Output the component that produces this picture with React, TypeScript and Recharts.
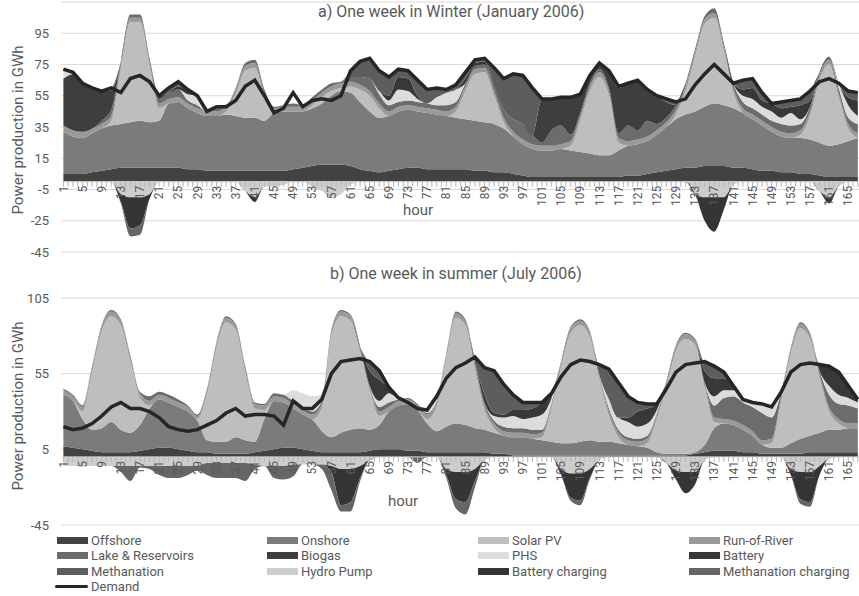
import React from 'react';
import { ComposedChart, Area, Line, XAxis, YAxis, CartesianGrid, ReferenceLine } from 'recharts';

// hours sampled every 2 h across the week
const hours = [
  1, 3, 5, 7, 9, 11, 13, 15, 17, 19,
  21, 23, 25, 27, 29, 31, 33, 35, 37, 39,
  41, 43, 45, 47, 49, 51, 53, 55, 57, 59,
  61, 63, 65, 67, 69, 71, 73, 75, 77, 79,
  81, 83, 85, 87, 89, 91, 93, 95, 97, 99,
  101, 103, 105, 107, 109, 111, 113, 115, 117, 119,
  121, 123, 125, 127, 129, 131, 133, 135, 137, 139,
  141, 143, 145, 147, 149, 151, 153, 155, 157, 159,
  161, 163, 165, 167,
];

const hourLabels = [
  1, 5, 9, 13, 17, 21, 25, 29, 33, 37, 41, 45, 49, 53, 57, 61, 65, 69, 73, 77, 81,
  85, 89, 93, 97, 101, 105, 109, 113, 117, 121, 125, 129, 133, 137, 141, 145, 149,
  153, 157, 161, 165,
];

const winterTicks = [-45, -25, -5, 15, 35, 55, 75, 95];
const summerTicks = [-45, 5, 55, 105];

// ---- a) winter week (January 2006) ----
const wOffshore = [
  5, 5, 5, 6, 7, 8, 9, 9, 9, 9,
  9, 9, 9, 8, 8, 7, 7, 7, 7, 7,
  7, 7, 7, 7, 8, 9, 10, 11, 11, 11,
  10, 8, 7, 6, 7, 8, 9, 9, 8, 8,
  8, 8, 8, 7, 7, 6, 6, 5, 4, 3,
  3, 3, 3, 3, 3, 3, 3, 3, 3, 4,
  4, 5, 6, 7, 8, 9, 9, 10, 10, 10,
  9, 9, 8, 7, 7, 6, 6, 5, 5, 4,
  3, 3, 3, 3,
];
const wOnshore = [
  27, 24, 23, 25, 27, 28, 28, 29, 30, 29,
  30, 41, 42, 39, 36, 35, 35, 36, 35, 34,
  34, 32, 37, 38, 37, 36, 37, 39, 44, 47,
  47, 43, 38, 35, 35, 37, 37, 36, 36, 35,
  34, 33, 32, 32, 31, 31, 28, 24, 20, 18,
  17, 17, 18, 17, 16, 15, 14, 14, 17, 19,
  20, 21, 24, 28, 32, 34, 36, 38, 40, 39,
  38, 35, 32, 29, 25, 23, 22, 23, 22, 21,
  20, 21, 23, 25,
];
const wSolar = [
  0, 0, 0, 0, 0, 3, 35, 64, 63, 36,
  8, 0, 0, 0, 0, 0, 0, 2, 14, 30,
  32, 15, 0, 0, 0, 0, 2, 4, 3, 2,
  4, 8, 10, 6, 0, 0, 0, 0, 0, 0,
  0, 4, 18, 30, 32, 18, 4, 0, 0, 0,
  0, 0, 0, 3, 20, 40, 50, 38, 5, 0,
  0, 0, 0, 0, 3, 15, 35, 53, 55, 35,
  10, 0, 0, 0, 0, 0, 0, 2, 15, 40,
  52, 30, 8, 0,
];
const wRiver = [
  4, 4, 4, 3, 3, 3, 3, 3, 3, 3,
  3, 3, 3, 3, 3, 3, 3, 3, 3, 3,
  3, 3, 3, 3, 3, 3, 3, 3, 3, 3,
  3, 3, 3, 3, 3, 3, 3, 3, 3, 3,
  3, 3, 3, 3, 3, 3, 3, 3, 3, 3,
  3, 3, 3, 3, 3, 3, 3, 3, 3, 3,
  3, 3, 3, 3, 3, 3, 3, 3, 3, 3,
  3, 3, 3, 3, 3, 3, 3, 3, 3, 3,
  3, 3, 3, 3,
];
const wLake = [
  0, 0, 0, 0, 2, 4, 2, 2, 2, 2,
  3, 4, 5, 2, 2, 0, 3, 1, 1, 2,
  2, 2, 1, 1, 2, 1, 2, 2, 2, 1,
  3, 5, 8, 6, 4, 3, 3, 3, 3, 3,
  4, 3, 2, 2, 2, 3, 5, 8, 10, 6,
  2, 10, 12, 4, 2, 2, 2, 2, 3, 10,
  6, 10, 4, 3, 3, 2, 2, 2, 3, 2,
  3, 4, 4, 4, 4, 5, 5, 4, 3, 2,
  2, 3, 4, 6,
];
const wBiogas = [
  30, 36, 32, 26, 19, 12, 0, 0, 0, 0,
  2, 0, 0, 0, 0, 0, 0, 0, 0, 0,
  0, 0, 0, 0, 0, 0, 0, 0, 0, 0,
  0, 0, 0, 0, 0, 0, 0, 0, 0, 0,
  0, 0, 0, 0, 0, 0, 0, 0, 0, 0,
  28, 20, 18, 24, 12, 5, 4, 11, 29, 27,
  32, 20, 18, 10, 0, 0, 0, 0, 0, 0,
  0, 0, 0, 0, 0, 0, 0, 0, 0, 0,
  0, 0, 0, 0,
];
const wPhs = [
  7, 2, 0, 0, 0, 0, 0, 0, 0, 0,
  0, 0, 0, 4, 6, 0, 0, 0, 0, 0,
  0, 0, 0, 0, 0, 0, 0, 0, 0, 0,
  0, 0, 0, 2, 3, 8, 6, 2, 0, 5,
  8, 8, 0, 0, 0, 0, 0, 0, 0, 0,
  0, 0, 0, 0, 0, 0, 0, 0, 0, 0,
  0, 0, 0, 0, 0, 0, 0, 0, 0, 0,
  0, 4, 6, 5, 6, 4, 8, 3, 0, 0,
  0, 3, 8, 5,
];
const wBattery = [
  0, 0, 0, 0, 0, 0, 0, 0, 0, 0,
  0, 0, 2, 3, 0, 0, 0, 0, 0, 0,
  0, 0, 0, 0, 0, 0, 0, 0, 0, 0,
  0, 0, 0, 0, 3, 8, 8, 2, 0, 0,
  0, 0, 3, 2, 2, 0, 0, 0, 0, 0,
  0, 0, 0, 0, 0, 0, 0, 0, 0, 0,
  0, 0, 0, 0, 0, 0, 0, 0, 0, 0,
  0, 4, 7, 4, 5, 6, 4, 9, 4, 0,
  0, 0, 5, 10,
];
const wMethanation = [
  0, 0, 0, 0, 0, 2, 0, 0, 0, 0,
  0, 3, 3, 0, 0, 0, 0, 0, 0, 0,
  0, 0, 0, 0, 0, 0, 0, 0, 0, 0,
  4, 10, 13, 13, 12, 5, 5, 10, 9, 6,
  2, 3, 4, 2, 2, 12, 20, 29, 31, 30,
  0, 0, 0, 0, 0, 0, 0, 0, 0, 0,
  0, 0, 0, 2, 2, 0, 0, 0, 0, 0,
  0, 6, 6, 5, 0, 4, 4, 4, 6, 0,
  0, 0, 4, 5,
];
const wHydroPump = [
  0, 0, 0, 0, 0, 0, -8, -10, -10, -8,
  0, 0, 0, 0, 0, 0, 0, 0, 0, -6,
  -10, -3, -3, -2, 0, 0, -3, -6, -10, -8,
  -2, 0, 0, 0, 0, 0, 0, 0, 0, 0,
  0, 0, 0, 0, 0, 0, 0, 0, 0, 0,
  0, 0, 0, 0, 0, 0, 0, 0, 0, 0,
  0, 0, 0, 0, 0, 0, -8, -10, -10, -10,
  -2, 0, 0, 0, 0, 0, 0, 0, 0, -6,
  -10, -3, 0, 0,
];
const wBatteryCharging = [
  0, 0, 0, 0, 0, 0, -5, -20, -18, -3,
  0, 0, 0, 0, 0, 0, 0, 0, 0, 0,
  -3, 0, 0, 0, 0, 0, 0, 0, 0, 0,
  0, 0, 0, 0, 0, 0, 0, 0, 0, 0,
  0, 0, 0, 0, 0, 0, 0, 0, 0, 0,
  0, 0, 0, 0, 0, 0, 0, 0, 0, 0,
  0, 0, 0, 0, 0, 0, 0, -15, -22, -8,
  0, 0, 0, 0, 0, 0, 0, 0, 0, 0,
  -4, 0, 0, 0,
];
const wMethCharging = [
  0, 0, 0, 0, 0, 0, -1, -5, -6, 0,
  0, 0, 0, 0, 0, 0, 0, 0, 0, 0,
  0, 0, 0, 0, 0, 0, 0, 0, 0, 0,
  0, 0, 0, 0, 0, 0, 0, 0, 0, 0,
  0, 0, 0, 0, 0, 0, 0, 0, 0, 0,
  0, 0, 0, 0, 0, 0, 0, 0, 0, 0,
  0, 0, 0, 0, 0, 0, 0, 0, 0, 0,
  0, 0, 0, 0, 0, 0, 0, 0, 0, 0,
  0, 0, 0, 0,
];
const wDemand = [
  72, 70, 63, 60, 58, 60, 57, 66, 68, 64,
  55, 60, 64, 59, 55, 45, 48, 48, 52, 61,
  65, 55, 44, 47, 57, 48, 52, 53, 52, 55,
  71, 77, 79, 71, 67, 72, 71, 65, 59, 60,
  59, 62, 70, 78, 79, 73, 66, 69, 68, 60,
  53, 53, 54, 54, 56, 68, 76, 71, 61, 63,
  65, 59, 55, 53, 51, 53, 62, 69, 75, 69,
  63, 65, 66, 57, 50, 51, 52, 53, 58, 64,
  66, 63, 58, 57,
];

// ---- b) summer week (July 2006) ----
const sOffshore = [
  7, 6, 5, 4, 3, 3, 3, 3, 4, 5,
  6, 6, 5, 4, 3, 3, 2, 2, 2, 2,
  3, 4, 5, 6, 6, 5, 4, 3, 3, 3,
  3, 3, 4, 5, 5, 5, 4, 4, 3, 3,
  3, 3, 3, 3, 3, 2, 2, 1, 1, 1,
  1, 1, 1, 1, 1, 1, 1, 1, 1, 1,
  1, 1, 1, 1, 1, 1, 2, 3, 4, 4,
  4, 3, 3, 2, 2, 2, 2, 2, 3, 3,
  3, 3, 3, 3,
];
const sOnshore = [
  34, 31, 20, 14, 16, 20, 15, 13, 17, 27,
  32, 30, 28, 26, 21, 8, 8, 8, 11, 9,
  7, 21, 32, 30, 26, 23, 21, 14, 10, 13,
  15, 16, 14, 16, 25, 29, 31, 27, 19, 14,
  17, 19, 18, 16, 15, 14, 12, 12, 12, 11,
  10, 9, 8, 8, 9, 10, 9, 9, 8, 7,
  6, 5, 2, 1, 1, 1, 1, 5, 15, 18,
  17, 15, 11, 6, 4, 4, 7, 10, 11, 13,
  15, 15, 16, 16,
];
const sSolar = [
  0, 0, 5, 38, 64, 70, 69, 47, 18, 2,
  0, 0, 0, 0, 1, 30, 62, 79, 71, 45,
  22, 6, 0, 0, 0, 0, 0, 15, 67, 77,
  72, 50, 26, 6, 0, 0, 0, 0, 3, 16,
  44, 70, 66, 39, 13, 3, 0, 0, 0, 0,
  2, 22, 50, 73, 77, 68, 41, 17, 4, 0,
  0, 3, 22, 44, 68, 76, 71, 38, 4, 0,
  0, 0, 0, 0, 3, 31, 59, 73, 64, 36,
  12, 4, 0, 0,
];
const sRiver = [
  3, 3, 3, 3, 3, 3, 3, 3, 3, 3,
  3, 3, 3, 3, 2, 3, 3, 3, 3, 3,
  3, 3, 3, 3, 3, 3, 3, 3, 3, 3,
  3, 3, 3, 3, 3, 3, 3, 3, 3, 3,
  3, 3, 3, 3, 3, 3, 3, 3, 3, 3,
  3, 3, 3, 3, 3, 3, 3, 3, 3, 3,
  3, 3, 3, 3, 3, 3, 3, 3, 3, 3,
  3, 3, 3, 3, 3, 3, 3, 3, 3, 3,
  3, 3, 3, 3,
];
const sLake = [
  1, 1, 1, 1, 1, 1, 1, 1, 1, 3,
  2, 2, 2, 1, 1, 1, 1, 1, 1, 1,
  1, 1, 2, 2, 2, 2, 2, 2, 1, 1,
  1, 1, 0, 3, 3, 1, 1, 1, 1, 1,
  1, 1, 1, 1, 2, 2, 3, 3, 3, 3,
  2, 1, 1, 1, 1, 1, 0, 2, 2, 2,
  2, 2, 1, 1, 1, 1, 1, 0, 8, 14,
  16, 15, 16, 18, 14, 3, 1, 1, 1, 2,
  8, 10, 12, 10,
];
const sPhs = [
  0, 0, 0, 0, 0, 0, 0, 0, 0, 0,
  0, 0, 0, 0, 0, 0, 0, 0, 0, 0,
  0, 0, 0, 0, 7, 9, 10, 4, 0, 0,
  0, 0, 0, 4, 6, 1, 0, 0, 2, 3,
  0, 0, 0, 0, 0, 3, 6, 8, 6, 8,
  10, 3, 0, 0, 0, 0, 0, 6, 8, 10,
  8, 8, 2, 0, 0, 0, 0, 0, 6, 5,
  4, 2, 3, 6, 7, 0, 0, 0, 0, 0,
  6, 6, 5, 4,
];
const sBattery = [
  0, 0, 0, 0, 0, 0, 0, 0, 0, 0,
  0, 0, 0, 0, 0, 0, 0, 0, 0, 0,
  0, 0, 0, 0, 0, 0, 0, 0, 0, 0,
  0, 0, 10, 14, 4, 0, 0, 0, 0, 0,
  0, 0, 0, 0, 5, 2, 2, 4, 6, 6,
  8, 3, 0, 0, 0, 0, 0, 0, 0, 3,
  10, 10, 4, 0, 0, 0, 0, 8, 12, 8,
  3, 0, 0, 0, 0, 0, 0, 0, 0, 4,
  13, 15, 8, 2,
];
const sMethanation = [
  0, 0, 0, 0, 0, 0, 0, 0, 0, 0,
  0, 0, 0, 0, 0, 0, 0, 0, 0, 0,
  0, 0, 0, 0, 0, 0, 0, 0, 0, 0,
  0, 0, 5, 6, 0, 0, 0, 0, 0, 0,
  0, 0, 0, 4, 18, 28, 20, 10, 5, 4,
  0, 0, 0, 0, 0, 0, 6, 20, 23, 14,
  6, 3, 0, 0, 0, 0, 0, 5, 8, 4,
  0, 0, 0, 0, 0, 0, 0, 0, 0, 0,
  0, 0, 0, 0,
];
const sHydroPump = [
  -6, -6, -6, -6, -6, -6, -6, -6, -6, -6,
  -6, -6, -6, -6, -6, -4, -4, -4, -4, -4,
  -5, -6, -6, -6, -5, -5, -5, -5, -6, -8,
  -8, -6, -2, 0, 0, 0, 0, 0, 0, 0,
  -8, -10, -10, -8, -2, 0, 0, 0, 0, 0,
  0, 0, -8, -11, -11, -8, -2, 0, 0, 0,
  0, 0, 0, -4, -9, -10, -10, -2, 0, 0,
  0, 0, 0, 0, 0, 0, -8, -10, -10, -6,
  -1, 0, 0, 0,
];
const sBatteryCharging = [
  0, 0, 0, 0, 0, 0, 0, 0, 0, 0,
  0, 0, 0, 0, 0, 0, 0, 0, 0, 0,
  0, 0, 0, 0, 0, 0, 0, 0, -4, -24,
  -22, -8, 0, 0, 0, 0, 0, 0, 0, 0,
  -4, -18, -20, -8, 0, 0, 0, 0, 0, 0,
  0, 0, -4, -16, -18, -6, 0, 0, 0, 0,
  0, 0, 0, 0, -6, -14, -8, 0, 0, 0,
  0, 0, 0, 0, 0, 0, -4, -18, -20, -6,
  0, 0, 0, 0,
];
const sMethCharging = [
  0, 0, 0, 0, 0, 0, -4, -10, -1, -2,
  -6, -8, -8, -6, -3, -8, -10, -10, -10, -12,
  -3, 0, -8, -9, -8, 0, 0, -3, -12, -4,
  -6, -2, 0, 0, 0, 0, 0, -4, 0, 0,
  -2, -6, -8, -4, 0, 0, 0, 0, 0, 0,
  0, 0, 0, -2, -3, -1, 0, 0, 0, 0,
  0, 0, 0, 0, 0, 0, 0, 0, 0, 0,
  0, 0, 0, 0, 0, 0, 0, -3, -3, 0,
  0, 0, 0, 0,
];
const sDemand = [
  20, 18, 19, 22, 27, 33, 36, 32, 32, 30,
  26, 20, 18, 17, 18, 21, 24, 29, 32, 27,
  28, 28, 27, 21, 37, 32, 32, 38, 55, 63,
  64, 65, 63, 57, 46, 39, 36, 32, 31, 40,
  52, 59, 62, 66, 59, 57, 48, 41, 36, 36,
  36, 42, 53, 61, 64, 63, 61, 58, 49, 40,
  36, 35, 35, 45, 56, 61, 62, 63, 60, 56,
  47, 38, 36, 35, 33, 43, 56, 61, 62, 61,
  60, 56, 47, 38,
];

const SERIES = [
  { key: 'offshore', name: 'Offshore', color: '#424242', stack: 'pos' },
  { key: 'onshore', name: 'Onshore', color: '#7b7b7b', stack: 'pos' },
  { key: 'solar', name: 'Solar PV', color: '#bebebe', stack: 'pos' },
  { key: 'river', name: 'Run-of-River', color: '#9a9a9a', stack: 'pos' },
  { key: 'lake', name: 'Lake & Reservoirs', color: '#6c6c6c', stack: 'pos' },
  { key: 'biogas', name: 'Biogas', color: '#3e3e3e', stack: 'pos' },
  { key: 'phs', name: 'PHS', color: '#dcdcdc', stack: 'pos' },
  { key: 'battery', name: 'Battery', color: '#383838', stack: 'pos' },
  { key: 'methanation', name: 'Methanation', color: '#5d5d5d', stack: 'pos' },
  { key: 'hydroPump', name: 'Hydro Pump', color: '#cdcdcd', stack: 'neg' },
  { key: 'batteryCharging', name: 'Battery charging', color: '#353535', stack: 'neg' },
  { key: 'methCharging', name: 'Methanation charging', color: '#666666', stack: 'neg' },
];

const LEGEND_ROWS = [
  ['offshore', 'onshore', 'solar', 'river'],
  ['lake', 'biogas', 'phs', 'battery'],
  ['methanation', 'hydroPump', 'batteryCharging', 'methCharging'],
];

function buildRows(cols: Record<string, number[]>) {
  return hours.map((h, i) => {
    const row: Record<string, number> = { hour: h };
    Object.keys(cols).forEach((k) => {
      row[k] = cols[k][i];
    });
    return row;
  });
}

const winterRows = buildRows({
  offshore: wOffshore, onshore: wOnshore, solar: wSolar, river: wRiver, lake: wLake,
  biogas: wBiogas, phs: wPhs, battery: wBattery, methanation: wMethanation,
  hydroPump: wHydroPump, batteryCharging: wBatteryCharging, methCharging: wMethCharging,
  demand: wDemand,
});

const summerRows = buildRows({
  offshore: sOffshore, onshore: sOnshore, solar: sSolar, river: sRiver, lake: sLake,
  phs: sPhs, battery: sBattery, methanation: sMethanation,
  hydroPump: sHydroPump, batteryCharging: sBatteryCharging, methCharging: sMethCharging,
  demand: sDemand,
});

// every hour gets a small tick mark; only every 4th hour is labelled
const allHours = Array.from({ length: 168 }, (_, i) => i + 1);
const labelSet = new Set(hourLabels);

const TEXT = '#595959';
const GRID = '#d9d9d9';

const HourTick = (props: any) => {
  const { x, y, payload, shift } = props;
  const y0 = y - shift;
  const v = payload.value;
  return (
    <g>
      <line x1={x} x2={x} y1={y0} y2={y0 + 5} stroke="#b5b5b5" strokeWidth={1} />
      {labelSet.has(v) && (
        <text
          transform={`translate(${x},${y0 + 4}) rotate(-90)`}
          textAnchor="end"
          dy="0.35em"
          fontSize={12}
          fill={TEXT}
        >
          {v}
        </text>
      )}
    </g>
  );
};

interface WeekProps {
  rows: Record<string, number>[];
  keys: string[];
  yMin: number;
  yMax: number;
  yTicks: number[];
  top: number;
  marginTop: number;
  plotHeight: number;
}

const WeekChart = ({ rows, keys, yMin, yMax, yTicks, top, marginTop, plotHeight }: WeekProps) => {
  const axisH = 1;
  const marginBottom = 9;
  const height = marginTop + plotHeight + axisH + marginBottom;
  const shift = (plotHeight * (0 - yMin)) / (yMax - yMin);
  return (
    <div style={{ position: 'absolute', left: 0, top }}>
      <ComposedChart
        width={870}
        height={height}
        data={rows}
        margin={{ top: marginTop, right: 5, bottom: marginBottom, left: 0 }}
      >
        <CartesianGrid vertical={false} stroke={GRID} />
        <XAxis
          type="number"
          dataKey="hour"
          domain={[0.5, 168.5]}
          ticks={allHours}
          interval={0}
          height={axisH}
          tickSize={0}
          tickMargin={0}
          axisLine={false}
          tickLine={false}
          tick={(p: any) => <HourTick {...p} shift={shift} />}
        />
        <YAxis
          domain={[yMin, yMax]}
          ticks={yTicks}
          width={61}
          axisLine={false}
          tickLine={false}
          tickSize={0}
          tickMargin={12}
          allowDataOverflow
          tick={{ fill: TEXT, fontSize: 13 }}
        />
        <ReferenceLine y={0} stroke={GRID} />
        {SERIES.filter((s) => keys.includes(s.key)).map((s) => (
          <Area
            key={s.key}
            type="monotone"
            dataKey={s.key}
            name={s.name}
            stackId={s.stack}
            stroke="none"
            fill={s.color}
            fillOpacity={1}
            dot={false}
            activeDot={false}
            isAnimationActive={false}
          />
        ))}
        <Line
          type="linear"
          dataKey="demand"
          name="Demand"
          stroke="#262626"
          strokeWidth={3.5}
          dot={false}
          activeDot={false}
          isAnimationActive={false}
        />
      </ComposedChart>
    </div>
  );
};

const absText = (left: number, top: number, size: number, text: string, extra: React.CSSProperties = {}) => (
  <div
    style={{
      position: 'absolute',
      left,
      top,
      fontSize: size,
      color: TEXT,
      whiteSpace: 'nowrap',
      lineHeight: 1,
      ...extra,
    }}
  >
    {text}
  </div>
);

const YLabel = ({ cy }: { cy: number }) => (
  <div
    style={{
      position: 'absolute',
      left: 18 - 110,
      top: cy - 10,
      width: 220,
      height: 20,
      lineHeight: '20px',
      textAlign: 'center',
      fontSize: 15,
      color: TEXT,
      transform: 'rotate(-90deg)',
    }}
  >
    Power production in GWh
  </div>
);

const LegendBox = () => {
  const colX = [57, 267, 478, 689];
  const rowY = [540, 555.5, 571];
  const byKey: Record<string, (typeof SERIES)[number]> = {};
  SERIES.forEach((s) => {
    byKey[s.key] = s;
  });
  return (
    <>
      {LEGEND_ROWS.map((row, r) =>
        row.map((k, c) => (
          <div
            key={k}
            style={{ position: 'absolute', left: colX[c], top: rowY[r] - 8, height: 16, display: 'flex', alignItems: 'center' }}
          >
            <div style={{ width: 31, height: 7, background: byKey[k].color, marginRight: 3 }} />
            <span style={{ fontSize: 13, color: TEXT }}>{byKey[k].name}</span>
          </div>
        )),
      )}
      <div style={{ position: 'absolute', left: 55, top: 586.5 - 8, height: 16, display: 'flex', alignItems: 'center' }}>
        <div style={{ width: 33, height: 3, background: '#262626', borderRadius: 2, marginRight: 3 }} />
        <span style={{ fontSize: 13, color: TEXT }}>Demand</span>
      </div>
    </>
  );
};

export default function App() {
  const winterKeys = SERIES.map((s) => s.key);
  const summerKeys = SERIES.map((s) => s.key).filter((k) => k !== 'biogas');
  return (
    <div
      style={{
        position: 'fixed',
        left: 0,
        top: 0,
        width: 859,
        height: 596,
        overflow: 'hidden',
        background: '#ffffff',
        fontFamily: 'Roboto, "Open Sans", Arial, sans-serif',
      }}
    >
      <WeekChart
        rows={winterRows}
        keys={winterKeys}
        yMin={-45}
        yMax={115}
        yTicks={winterTicks}
        top={0}
        marginTop={2}
        plotHeight={250}
      />
      <WeekChart
        rows={summerRows}
        keys={summerKeys}
        yMin={-45}
        yMax={105}
        yTicks={summerTicks}
        top={288}
        marginTop={10}
        plotHeight={227}
      />
      {absText(318, 4, 16, 'a) One week in Winter (January 2006)')}
      {absText(330, 266, 16, 'b) One week in summer (July 2006)')}
      {absText(403, 203, 15, 'hour')}
      {absText(388, 494, 15, 'hour')}
      <YLabel cy={130} />
      <YLabel cy={406} />
      <LegendBox />
    </div>
  );
}
